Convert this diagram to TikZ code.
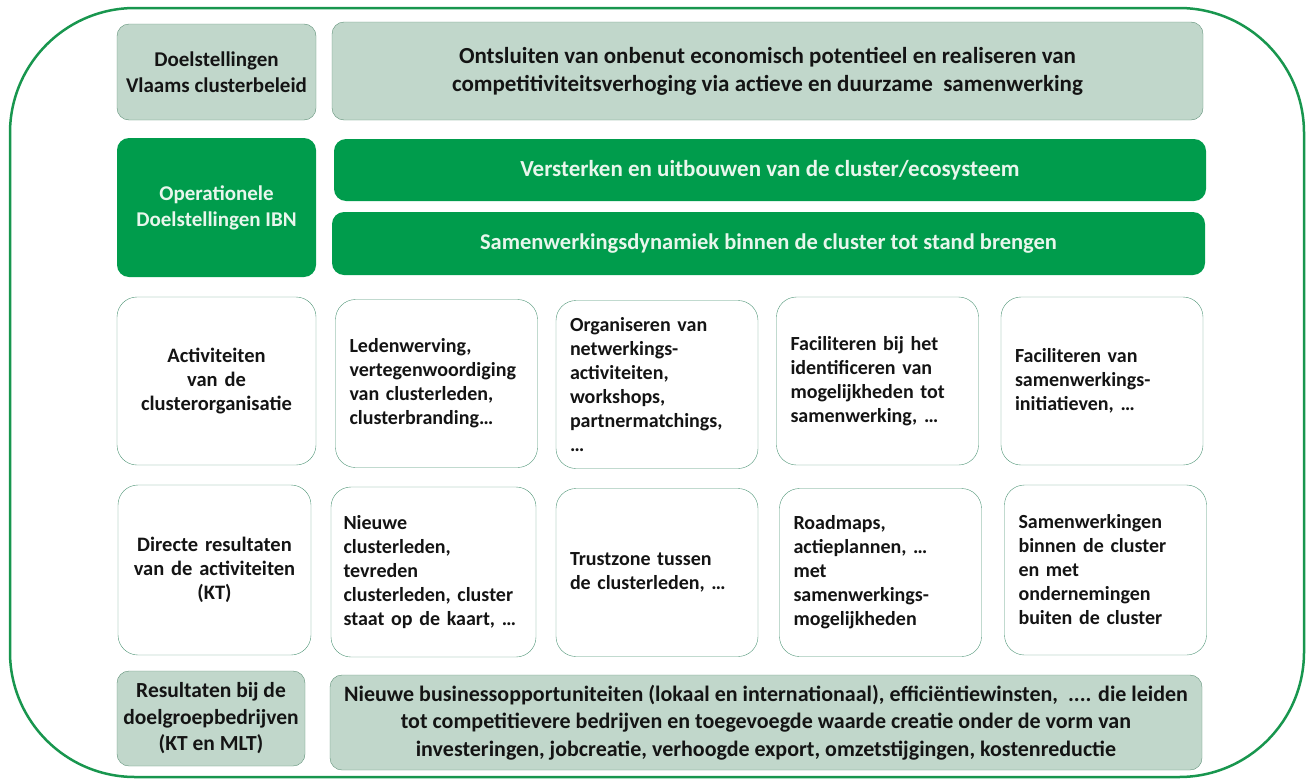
\documentclass[tikz,border=0pt]{standalone}
\usepackage{fontspec}
\setmainfont{Carlito}
\definecolor{kader}{RGB}{24,150,78}
\definecolor{ibngroen}{RGB}{0,156,76}
\definecolor{raster}{RGB}{193,215,203}
\definecolor{rasterrand}{RGB}{95,145,120}
\definecolor{witrand}{RGB}{80,150,120}
\definecolor{tekst}{RGB}{20,20,20}
\definecolor{lichttekst}{RGB}{232,246,236}
\begin{document}
\begin{tikzpicture}[x=1pt,y=-1pt,
    every node/.style={font=\bfseries\fontsize{20}{24}\selectfont},
    grijs/.style={rectangle,rounded corners=12pt,draw=rasterrand,fill=raster,thin,text=tekst,align=center,inner sep=2pt,font=\bfseries\fontsize{21}{26}\selectfont},
    groen/.style={rectangle,rounded corners=12pt,fill=ibngroen,text=lichttekst,align=center,font=\bfseries\fontsize{21}{26}\selectfont},
    wit/.style={rectangle,rounded corners=20pt,draw=witrand,thin,fill=white,minimum width=202pt,minimum height=168pt,text width=174pt,align=left,text=tekst}]
    \useasboundingbox (0,0) rectangle (1306,779);
    % buitenkader
    \draw[kader,line width=2.5pt,rounded corners=125pt] (10,8) rectangle (1304,777);

    % doelstellingen
    \node[grijs,minimum width=199pt,minimum height=96pt] (doel) at (216.5,72) {Doelstellingen\\Vlaams clusterbeleid};
    \node[grijs,minimum width=871pt,minimum height=98pt,font=\bfseries\fontsize{23}{28}\selectfont] (doeltxt) at (767.5,71)
        {Ontsluiten van onbenut economisch potentieel en realiseren van\\competitiviteitsverhoging via actieve en duurzame\ \ samenwerking};

    % operationele doelstellingen
    \node[groen,minimum width=199pt,minimum height=139pt] (opdoel) at (216.5,207.5) {Operationele\\Doelstellingen IBN};
    \node[groen,minimum width=872pt,minimum height=62pt,font=\bfseries\fontsize{23}{26}\selectfont] (op1) at (770,170) {Versterken en uitbouwen van de cluster/ecosysteem};
    \node[groen,minimum width=873pt,minimum height=63pt,font=\bfseries\fontsize{22.5}{26}\selectfont] (op2) at (768.5,243.5) {Samenwerkingsdynamiek binnen de cluster tot stand brengen};

    % activiteiten
    \node[wit,minimum width=199pt,align=center,font=\bfseries\fontsize{20.5}{24}\selectfont] (act) at (216.5,381) {Activiteiten\\van de\\clusterorganisatie};
    \node[wit] (act1) at (436.5,383.5) {Ledenwerving,\\vertegenwoordiging\\van clusterleden,\\clusterbranding…};
    \node[wit] (act2) at (657,384.5) {Organiseren van\\netwerkings-\\activiteiten,\\workshops,\\partnermatchings,\\…};
    \node[wit] (act3) at (877.5,381) {Faciliteren bij het\\identificeren van\\mogelijkheden tot\\samenwerking, …};
    \node[wit] (act4) at (1102,381) {Faciliteren van\\samenwerkings-\\initiatieven, …};

    % directe resultaten
    \node[wit,minimum width=193pt,minimum height=170pt,align=center,font=\bfseries\fontsize{20.5}{24}\selectfont] (res) at (214.5,570) {Directe resultaten\\van de activiteiten\\(KT)};
    \node[wit,minimum width=205pt,minimum height=170pt,text width=180pt] (res1) at (433.5,572) {Nieuwe\\clusterleden,\\tevreden\\clusterleden, cluster\\staat op de kaart, …};
    \node[wit] (res2) at (657,572.5) {Trustzone tussen\\de clusterleden, …};
    \node[wit] (res3) at (880.5,572.5) {Roadmaps,\\actieplannen, …\\met\\samenwerkings-\\mogelijkheden};
    \node[wit,minimum height=170pt] (res4) at (1105.5,570) {Samenwerkingen\\binnen de cluster\\en met\\ondernemingen\\buiten de cluster};

    % resultaten bij bedrijven
    \node[grijs,minimum width=188pt,minimum height=95pt,font=\bfseries\fontsize{21.5}{26.5}\selectfont] (bedr) at (211,718.5) {Resultaten bij de\\doelgroepbedrijven\\(KT en MLT)};
    \node[grijs,minimum width=872pt,minimum height=95pt,font=\bfseries\fontsize{22}{27.5}\selectfont] (bedrtxt) at (766,722.5)
        {Nieuwe businessopportuniteiten (lokaal en internationaal), efficiëntiewinsten,\ \ .... die leiden\\tot competitievere bedrijven en toegevoegde waarde creatie onder de vorm van\\investeringen, jobcreatie, verhoogde export, omzetstijgingen, kostenreductie};
\end{tikzpicture}
\end{document}
